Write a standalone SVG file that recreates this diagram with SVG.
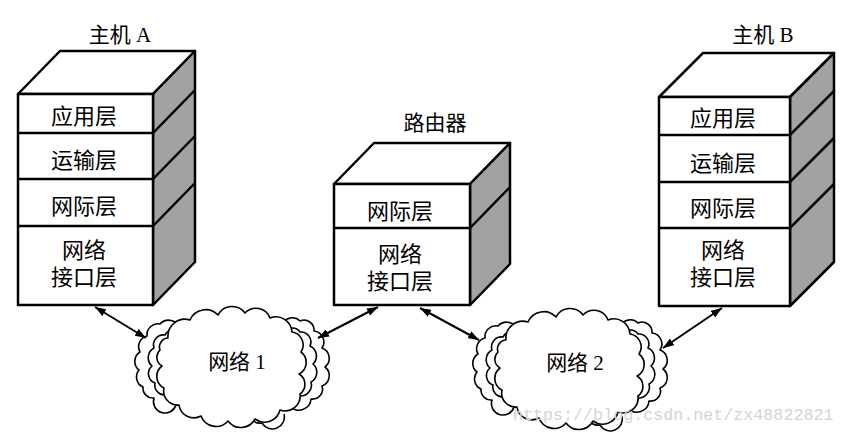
<svg xmlns="http://www.w3.org/2000/svg" width="844" height="434" viewBox="0 0 844 434">
<style>
.face{fill:#fff;stroke:#000;stroke-width:2.5;stroke-linejoin:round}
.side{fill:#a2a2a2;stroke:#000;stroke-width:2.5;stroke-linejoin:round}
.div{stroke:#000;stroke-width:2.5;fill:none}
.lbl{font-family:"Liberation Serif","Noto Sans CJK SC",serif;font-size:22px;fill:#000;text-anchor:middle;dominant-baseline:central}
.ttl{font-family:"Liberation Serif","Noto Sans CJK SC",serif;font-size:21px;fill:#000;text-anchor:middle;dominant-baseline:central}
.cl{fill:#fff;stroke:#000;stroke-width:1.6;stroke-linejoin:round}
.conn{stroke:#000;stroke-width:2;fill:none;marker-start:url(#ah);marker-end:url(#ah)}
.wm{font-family:"Liberation Mono",monospace;font-size:16.7px;fill:#d4d4d4}
</style>
<defs>
<marker id="ah" markerUnits="userSpaceOnUse" markerWidth="11" markerHeight="8" refX="11" refY="4" orient="auto-start-reverse">
<path d="M0,0 L11,4 L0,8 z" fill="#000"/>
</marker>
<g id="cloud">
<path class="cl" d="M180,328 A12,12 0 0 0 160,324 A11,11 0 0 0 147,336 A11,11 0 0 0 140,352 A11,11 0 0 0 139,370 A11,11 0 0 0 143,387 A10,10 0 0 0 154,398 A11,11 0 0 0 176,405"/>
<path class="cl" d="M182,334 A10,10 0 0 0 165,335 A10,10 0 0 0 154,348 A11,11 0 0 0 152,366 A10,10 0 0 0 155,383 A10,10 0 0 0 166,395 A10,10 0 0 0 182,400"/>
<path class="cl" d="M282,325 A11,11 0 0 1 300,321 A10,10 0 0 1 314,331 A11,11 0 0 1 322,348 A11,11 0 0 1 325,367 A11,11 0 0 1 322,386 A10,10 0 0 1 311,399 A12,12 0 0 1 290,406"/>
<path class="cl" d="M285,332 A9,9 0 0 1 300,332 A10,10 0 0 1 310,346 A11,11 0 0 1 313,364 A11,11 0 0 1 311,382 A11,11 0 0 1 300,396 A9,9 0 0 1 286,402"/>
<path class="cl" d="M250,405 A12,12 0 0 0 262,423 A12,12 0 0 0 284,414"/>
<path class="cl" d="M168,338 A17,17 0 0 1 190,320 A17,17 0 0 1 218,315 A16,16 0 0 1 245,313 A15,15 0 0 1 270,318 A16,16 0 0 1 292,332 A13,13 0 0 1 301,352 A13,13 0 0 1 299,374 A12,12 0 0 1 300,394 A15,15 0 0 1 280,410 A16,16 0 0 1 255,419 A16,16 0 0 1 228,421 A16,16 0 0 1 201,416 A15,15 0 0 1 179,405 A14,14 0 0 1 164,388 A13,13 0 0 1 162,366 A10,10 0 0 1 160,350 A9,9 0 0 1 168,338 Z"/>
</g>
</defs>
<rect width="844" height="434" fill="#fff"/>

<g id="hostA">
<text class="ttl" x="120" y="35">主机 A</text>
<polygon class="face" points="18,94 60,51 195,51 153,94"/>
<polygon class="side" points="153,94 195,51 195,262 153,305"/>
<rect class="face" x="18" y="94" width="135" height="211"/>
<path class="div" d="M18,133 H153 L195,90 M18,179 H153 L195,136 M18,226 H153 L195,183"/>
<text class="lbl" x="84" y="116">应用层</text>
<text class="lbl" x="84" y="160">运输层</text>
<text class="lbl" x="84" y="206">网际层</text>
<text class="lbl" x="84" y="250">网络</text>
<text class="lbl" x="84" y="277">接口层</text>
</g>

<g id="router">
<text class="ttl" x="435" y="123">路由器</text>
<polygon class="face" points="334,184 374,143 510,143 470,184"/>
<polygon class="side" points="470,184 510,143 510,264 470,305"/>
<rect class="face" x="334" y="184" width="136" height="121"/>
<path class="div" d="M334,228 H470 L510,187"/>
<text class="lbl" x="400" y="211">网际层</text>
<text class="lbl" x="400" y="254">网络</text>
<text class="lbl" x="400" y="281">接口层</text>
</g>

<g id="hostB">
<text class="ttl" x="763" y="35">主机 B</text>
<polygon class="face" points="659,97 703,53 834,53 790,97"/>
<polygon class="side" points="790,97 834,53 834,262 790,306"/>
<rect class="face" x="659" y="97" width="131" height="209"/>
<path class="div" d="M659,135 H790 L834,91 M659,182 H790 L834,138 M659,228 H790 L834,184"/>
<text class="lbl" x="723" y="118">应用层</text>
<text class="lbl" x="723" y="163">运输层</text>
<text class="lbl" x="723" y="208">网际层</text>
<text class="lbl" x="723" y="250">网络</text>
<text class="lbl" x="723" y="277">接口层</text>
</g>

<g id="net1">
<use href="#cloud"/>
<text class="ttl" x="237" y="362">网络 1</text>
</g>

<g id="net2">
<use href="#cloud" transform="translate(338,2)"/>
<text class="ttl" x="575" y="363">网络 2</text>
</g>

<g id="connectors">
<line class="conn" x1="95" y1="307" x2="146" y2="338"/>
<line class="conn" x1="318" y1="338" x2="378" y2="307"/>
<line class="conn" x1="420" y1="308" x2="479" y2="340"/>
<line class="conn" x1="663" y1="348" x2="722" y2="308"/>
</g>

<text class="wm" x="513" y="420">https://blog.csdn.net/zx48822821</text>
</svg>
